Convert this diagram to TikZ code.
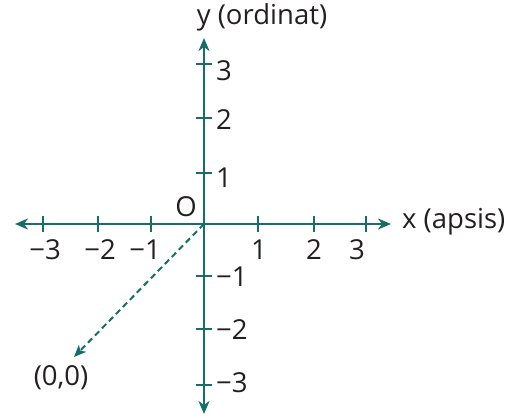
\documentclass[tikz,border=0pt]{standalone}
\usepackage{fontspec}
\setmainfont{Open Sans}
\definecolor{axisteal}{HTML}{176D68}
\definecolor{ink}{HTML}{231F20}
\usetikzlibrary{arrows.meta}

\begin{document}
\begin{tikzpicture}[x=1pt, y=-1pt,
    axisline/.style={draw=axisteal, line width=2.4pt, {Stealth[length=13pt,width=11pt,inset=4pt]}-{Stealth[length=13pt,width=11pt,inset=4pt]}},
    tickmark/.style={draw=axisteal, line width=2.4pt},
    numlabel/.style={font=\fontsize{27.5}{30}\selectfont, text=ink, inner sep=0pt},
    dasharrow/.style={draw=axisteal, line width=2pt, dash pattern=on 6pt off 4pt, -{Stealth[length=12pt,width=10pt,inset=3pt]}}]
  \useasboundingbox (0,0) rectangle (520,418);
  % axes
  \coordinate (O) at (204,224);
  \coordinate (xleft) at (15,224);
  \coordinate (xright) at (391,224);
  \coordinate (ytop) at (204,38);
  \coordinate (ybottom) at (204,414);
  \draw[axisline] (xleft) -- (xright);
  \draw[axisline] (ybottom) -- (ytop);
  % ticks on x
  \foreach \tx/\lx/\val in {43/45/−3, 98/100/−2, 151/145/−1, 258/259/1, 314/314/2, 366/357/3} {
    \draw[tickmark] (\tx,216) -- (\tx,232);
    \node[numlabel] (xlab\tx) at (\lx,250) {\val};
  }
  % ticks on y
  \foreach \ty/\ly/\val in {64/71/3, 118/120/2, 173/178/1, 276/277/−1, 329/330/−2, 385/383/−3} {
    \draw[tickmark] (196,\ty) -- (212,\ty);
    \node[numlabel, anchor=west] (ylab\ty) at (216,\ly) {\val};
  }
  % labels
  \node[numlabel] (origin) at (186,207) {O};
  \node[numlabel, anchor=west] (xname) at (402,222) {x (apsis)};
  \node[numlabel] (yname) at (262,17) {y (ordinat)};
  \node[numlabel] (zero) at (61,378) {(0,0)};
  \coordinate (tip) at (74,357);
  \draw[dasharrow] (O) -- (tip);
\end{tikzpicture}
\end{document}
